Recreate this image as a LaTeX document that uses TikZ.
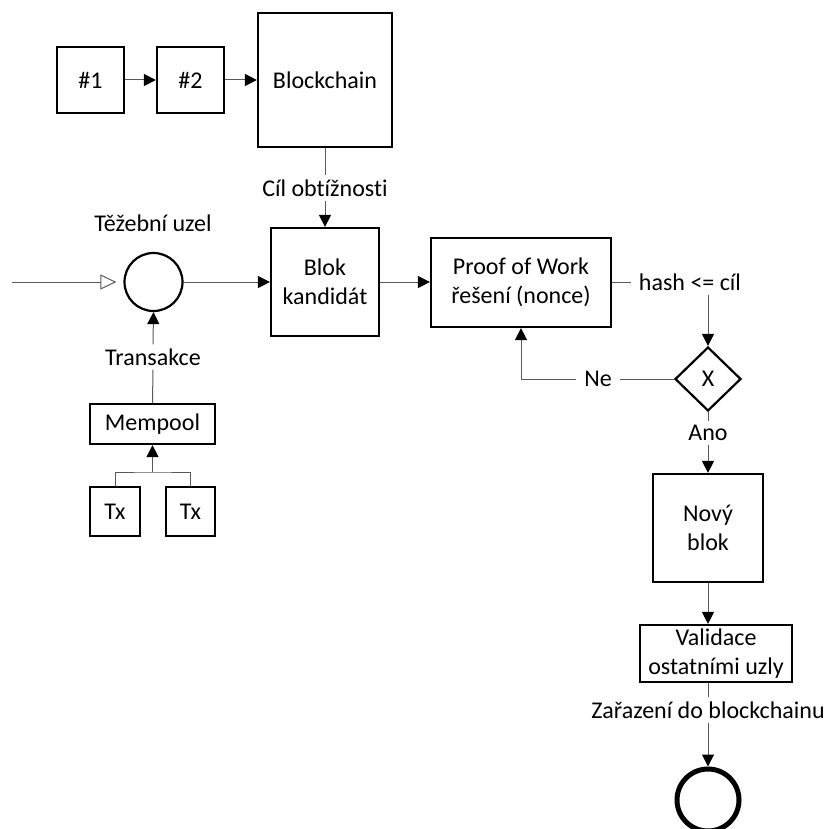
\documentclass[tikz,border=0pt]{standalone}
\usepackage{fontspec}
\setmainfont{Carlito}[Ligatures={NoCommon}]
\usetikzlibrary{arrows.meta,shapes.geometric,positioning}
\newcommand\diagfont{\fontsize{24}{29}\selectfont}
\begin{document}
\begin{tikzpicture}[x=1pt,y=-1pt,
  box/.style={draw, line width=2.2pt, inner sep=0pt, align=center, font=\diagfont},
  lab/.style={font=\diagfont, inner xsep=8pt, inner ysep=4pt, align=center},
  conn/.style={line width=1pt, draw=black!65},
  arr/.style={conn, -{Triangle[length=12pt,width=12pt,color=black]}},
  openarr/.style={conn, -{Triangle[open,length=16pt,width=15pt]}}]
\useasboundingbox (0,0) rectangle (826,829);
% top chain
\node[box, minimum width=67, minimum height=66] (n1) at (90.5,80) {\#1};
\node[box, minimum width=67, minimum height=66] (n2) at (190.5,80) {\#2};
\node[box, minimum width=134, minimum height=134] (bc) at (325,80) {};
\node[lab] (bct) at (325,80) {Blockchain};
\draw[arr] (n1) -- (n2);
\draw[arr] (n2) -- (n2 -| bc.west);
% miner
\node[lab] (cil) at (325,188) {Cíl obtížnosti};
\node[lab] (tez) at (153,223) {Těžební uzel};
\node[draw, circle, line width=2.2pt, minimum size=58, inner sep=0pt] (circ) at (153.5,282) {};
\coordinate (in) at (12,282);
\node[box, minimum width=108, minimum height=108] (blok) at (325,282) {Blok\\kandidát};
\node[box, minimum width=180, minimum height=89] (pow) at (521,282.5) {Proof of Work\\řešení (nonce)};
\node[lab] (hash) at (690,282) {hash <= cíl};
\node[draw, diamond, line width=2.2pt, minimum width=66, minimum height=64, inner sep=0pt, font=\diagfont] (dia) at (708,379) {X};
\node[lab] (ne) at (598,379) {Ne};
\node[lab] (ano) at (708,433) {Ano};
\node[box, minimum width=110, minimum height=108] (novy) at (708,528) {Nový\\blok};
\node[box, minimum width=152, minimum height=57] (val) at (716,653.5) {Validace\\ostatními uzly};
\node[lab] (zar) at (708,710) {Zařazení do blockchainu};
\node[draw, circle, line width=5pt, minimum size=62, inner sep=0pt] (end) at (708,800) {};
% mempool
\node[lab] (trans) at (153,357) {Transakce};
\node[box, minimum width=125, minimum height=40] (mem) at (152.5,424) {Mempool};
\node[box, minimum width=50, minimum height=49] (tx1) at (115,511.5) {Tx};
\node[box, minimum width=49, minimum height=49] (tx2) at (190.5,511.5) {Tx};
\coordinate (j) at (152.5,472);
% connectors
\draw[conn] (bc.south) -- (cil.north);
\draw[arr] (cil.south) -- (blok.north);
\draw[openarr, shorten >=7pt] (in) -- (circ.west);
\draw[arr] (circ.east) -- (circ.east -| blok.west);
\draw[arr] (blok.east) -- (blok.east -| pow.west);
\draw[conn] (pow.east |- hash.west) -- (hash.west);
\draw[arr] (dia.north |- hash.south) -- (dia.north);
\draw[conn] (dia.west) -- (ne.east);
\draw[arr] (ne.west) -| (pow.south);
\draw[conn] (dia.south) -- (ano.north);
\draw[arr] (ano.south) -- (novy.north);
\draw[arr] (novy.south) -- (novy.south |- val.north);
\draw[conn] (novy.south |- val.south) -- (zar.north);
\draw[arr] (zar.south) -- (end.north);
\draw[conn] (mem.north) -- (trans.south);
\draw[arr] (trans.north) -- (circ.south);
\draw[conn] (tx1.north) |- (j) -| (tx2.north);
\draw[arr] (j) -- (mem.south);
\end{tikzpicture}
\end{document}
